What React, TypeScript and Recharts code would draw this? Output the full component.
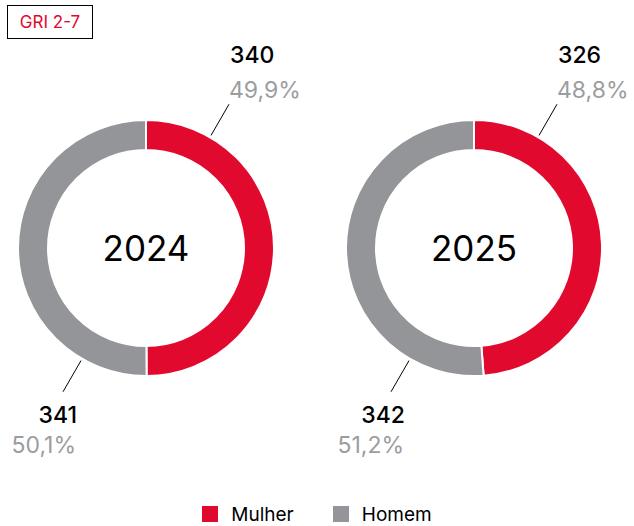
import React from 'react';
import { PieChart, Pie, Cell, Legend } from 'recharts';

const categories = ['Mulher', 'Homem'];
const colors = ['#e1092d', '#939598'];
const years = ['2024', '2025'];
const values2024 = [340, 341];
const values2025 = [326, 342];
const badgeText = 'GRI 2-7';

const FONT = 'Inter, "Noto Sans", sans-serif';

const toData = (vals: number[]) => categories.map((name, i) => ({ name, value: vals[i] }));
const data2024 = toData(values2024);
const data2025 = toData(values2025);

const makeLabel = (year: string) => (props: any) => {
  const { cx, cy, outerRadius, index, value, percent } = props;
  const angle = index === 0 ? 60 : 240;
  const rad = (Math.PI / 180) * angle;
  const r1 = outerRadius + 2;
  const r2 = outerRadius + 38;
  const x1 = cx + r1 * Math.cos(rad);
  const y1 = cy - r1 * Math.sin(rad);
  const x2 = cx + r2 * Math.cos(rad);
  const y2 = cy - r2 * Math.sin(rad);
  const pct = (percent * 100).toFixed(1).replace('.', ',') + '%';
  const top = index === 0;
  return (
    <g>
      {top && (
        <text
          x={cx}
          y={cy}
          textAnchor="middle"
          dominantBaseline="central"
          fontFamily={FONT}
          fontSize={35}
          fill="#000"
        >
          {year}
        </text>
      )}
      <line x1={x1} y1={y1} x2={x2} y2={y2} stroke="#000" strokeWidth={1} />
      <text
        x={top ? x2 + 1 : x2 + 14}
        y={top ? y2 - 41 : y2 + 31}
        textAnchor={top ? 'start' : 'end'}
        fontFamily={FONT}
        fontSize={23}
        fontWeight={500}
        fill="#000"
      >
        {value}
      </text>
      <text
        x={top ? x2 : x2 + 13}
        y={top ? y2 - 6 : y2 + 61}
        textAnchor={top ? 'start' : 'end'}
        fontFamily={FONT}
        fontSize={23}
        fill="#9b9da0"
      >
        {pct}
      </text>
    </g>
  );
};

const LegendContent = () => (
  <div
    style={{
      display: 'flex',
      justifyContent: 'center',
      alignItems: 'center',
      height: 24,
      fontFamily: FONT,
      fontSize: 19,
      color: '#000',
    }}
  >
    {categories.map((c, i) => (
      <div key={c} style={{ display: 'flex', alignItems: 'center', marginRight: i === 0 ? 39 : 0 }}>
        <div style={{ width: 16, height: 16, background: colors[i], marginRight: 13 }} />
        <span>{c}</span>
      </div>
    ))}
  </div>
);

export default function App() {
  return (
    <div style={{ position: 'absolute', left: 0, top: 0, width: 634, height: 526, background: '#fff' }}>
      <div
        style={{
          position: 'absolute',
          left: 7,
          top: 5,
          width: 84,
          height: 32,
          border: '1px solid #000',
          color: '#e1092d',
          fontFamily: FONT,
          fontSize: 17,
          display: 'flex',
          alignItems: 'center',
          justifyContent: 'center',
          zIndex: 2,
        }}
      >
        {badgeText}
      </div>
      <PieChart width={634} height={526} margin={{ top: 0, right: 0, bottom: 0, left: 0 }}>
        {[data2024, data2025].map((d, k) => (
          <Pie
            key={years[k]}
            data={d}
            dataKey="value"
            nameKey="name"
            cx={k === 0 ? 146 : 474}
            cy={248}
            innerRadius={98}
            outerRadius={128}
            startAngle={90}
            endAngle={-270}
            stroke="#fff"
            strokeWidth={2}
            label={makeLabel(years[k])}
            labelLine={false}
            isAnimationActive={false}
          >
            {d.map((_, i) => (
              <Cell key={i} fill={colors[i]} />
            ))}
          </Pie>
        ))}
        <Legend verticalAlign="bottom" align="center" content={<LegendContent />} wrapperStyle={{ bottom: 0 }} />
      </PieChart>
    </div>
  );
}
